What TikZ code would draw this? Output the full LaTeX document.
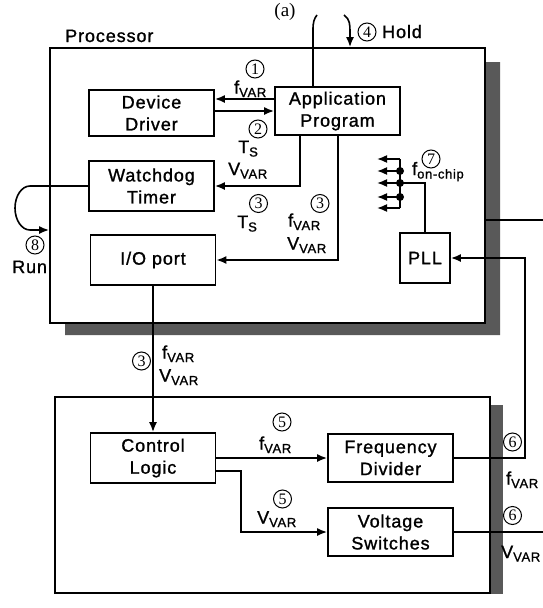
\documentclass[tikz,border=0pt]{standalone}
\usepackage{fontspec}
\setmainfont{Liberation Serif}
\setsansfont{Liberation Sans}[LetterSpace=5, FakeBold=1.2]
\usetikzlibrary{arrows.meta}
\newcommand{\lo}[1]{\raisebox{-3.5pt}{\fontsize{13}{13}\selectfont #1}}

\begin{document}
\begin{tikzpicture}[x=1pt, y=-1pt, >={Latex[length=10pt,width=8pt]},
  blk/.style={draw, line width=1.8pt, minimum width=125pt, minimum height=48pt,
    inner sep=0pt, align=center, font=\sffamily\fontsize{18}{22}\selectfont},
  frame/.style={draw, line width=1.8pt, inner sep=0pt},
  lbl/.style={inner sep=0pt, anchor=base west, font=\sffamily\fontsize{18}{20}\selectfont},
  num/.style={circle, draw, line width=1pt, inner sep=0pt, minimum size=18pt,
    font=\rmfamily\fontsize{16}{16}\selectfont},
  wire/.style={line width=1.6pt},
  shade/.style={fill=black!65}]
  \useasboundingbox (0,0) rectangle (542,608);
  \node[anchor=base, font=\rmfamily\fontsize{19}{19}\selectfont] (cap) at (285,16) {(a)};
  % shadows
  \fill[shade] (485,62) -- (500,62) -- (500,335) -- (65,335) -- (65,323) -- (485,323) -- cycle;
  \fill[shade] (490,405) rectangle (503,594);
  % frames
  \node[frame, minimum width=435pt, minimum height=275pt] (proc) at (267.5,185.5) {};
  \node[frame, minimum width=435pt, minimum height=196pt] (sup) at (272.5,495) {};
  \node[lbl] (proclbl) at (65,42) {Processor};
  % blocks
  \node[blk, minimum height=46pt] (dd) at (151.5,113) {Device\\Driver};
  \node[blk] (app) at (337.5,111) {Application\\Program};
  \node[blk, minimum height=50pt] (wdt) at (151.5,186) {Watchdog\\Timer};
  \node[blk, minimum height=50pt] (io) at (153,260) {I/O port};
  \node[blk, minimum width=50pt, minimum height=50pt] (pll) at (425,258) {PLL};
  \node[blk, minimum height=50pt] (ctl) at (153,458) {Control\\Logic};
  \node[blk] (fdiv) at (390.5,458) {Frequency\\Divider};
  \node[blk] (vsw) at (390.5,532) {Voltage\\Switches};
  % wires inside the processor
  \draw[wire,->] (app.west |- 0,99) -- (dd.east |- 0,99);
  \draw[wire,->] (dd.east |- 0,111) -- (app.west |- 0,111);
  \draw[wire,->] (app.south -| 300,0) |- (wdt.east);
  \draw[wire,->] (app.south -| 338,0) |- (io.east);
  \draw[wire] (app.north -| 313,0) -- (313,30) .. controls (313,22) and (314,19) .. (317,15);
  \draw[wire,->] (344,15) .. controls (350,19) and (350,25) .. (350,32) -- (proc.north -| 350,0);
  \draw[wire,->] (wdt.west) -- (30,186) arc[start angle=90, end angle=270, x radius=15pt, y radius=22pt]
    -- (proc.west |- 0,230);
  % clock tree
  \coordinate (tap) at (400,183);
  \draw[wire] (pll.north) |- (tap);
  \draw[wire] (400,159) -- (400,208);
  \foreach \y in {159,171,183,197,208} \draw[wire,->] (400,\y) -- (377,\y);
  \foreach \y in {171,183,197} \fill (400,\y) circle (4pt);
  % wires to and from the supply
  \draw[wire,->] (io.south) -- (ctl.north);
  \draw[wire,->] (ctl.east) -- (fdiv.west);
  \draw[wire,->] (ctl.east |- 0,471) -- (241,471) |- (vsw.west);
  \draw[wire,->] (fdiv.east) -- (525,458) |- (pll.east);
  \coordinate (vout) at (545,532);
  \draw[wire] (vsw.east) -- (vout);
  \coordinate (pout) at (545,220);
  \draw[wire] (proc.east |- pout) -- (pout);
  % labels
  \node[num] (c1) at (255,69) {1};
  \node[lbl] (f1) at (234,93.5) {f\lo{VAR}};
  \node[num] (c2) at (258,129) {2};
  \node[lbl] (t2) at (238,153) {T\lo{S}};
  \node[lbl] (v2) at (228,175) {V\lo{VAR}};
  \node[num] (c3a) at (258.5,203.5) {3};
  \node[lbl] (t3) at (237,228) {T\lo{S}};
  \node[num] (c3b) at (320,203.5) {3};
  \node[lbl] (f3b) at (288,226.5) {f\lo{VAR}};
  \node[lbl] (v3b) at (287,249.5) {V\lo{VAR}};
  \node[num] (c3c) at (141.5,361) {3};
  \node[lbl] (f3c) at (162,358.5) {f\lo{VAR}};
  \node[lbl] (v3c) at (159,381.5) {V\lo{VAR}};
  \node[num] (c4) at (367,32) {4};
  \node[lbl] (hold) at (382,38) {Hold};
  \node[num] (c5a) at (282,422) {5};
  \node[lbl] (f5) at (259,449.5) {f\lo{VAR}};
  \node[num] (c5b) at (282.5,499) {5};
  \node[lbl] (v5) at (257,523.5) {V\lo{VAR}};
  \node[num] (c6a) at (512.5,442) {6};
  \node[lbl] (f6) at (506,484.5) {f\lo{VAR}};
  \node[num] (c6b) at (512.5,515.5) {6};
  \node[lbl] (v6) at (501,558) {V\lo{VAR}};
  \node[num] (c7) at (431,159) {7};
  \node[lbl] (fon) at (412,175) {f\lo{on-chip}};
  \node[num] (c8) at (35,245) {8};
  \node[lbl] (run) at (12,273) {Run};
\end{tikzpicture}
\end{document}
